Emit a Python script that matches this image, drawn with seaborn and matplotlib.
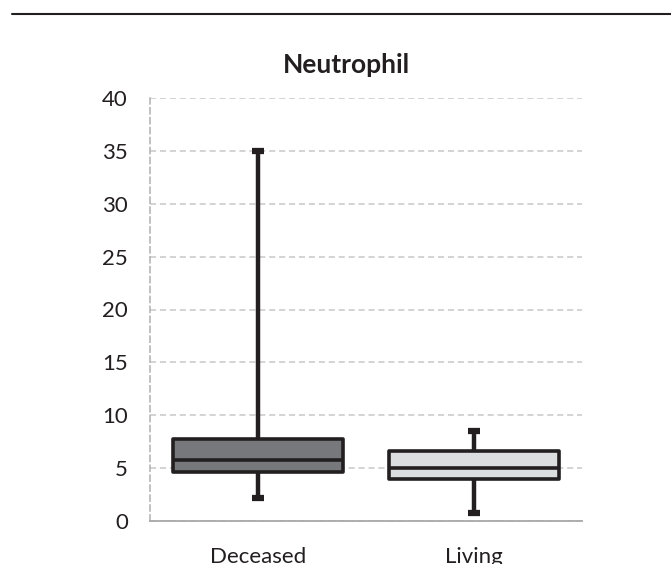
import matplotlib
matplotlib.use("Agg")
import matplotlib.pyplot as plt
import seaborn as sns
import pandas as pd
from matplotlib.lines import Line2D

categories = ["Deceased", "Living"]
# five-number summaries: min, Q1, median, Q3, max
deceased_stats = [2.2, 4.6, 5.8, 7.8, 35.0]
living_stats = [0.8, 3.95, 5.0, 6.6, 8.5]
box_colors = ["#77787b", "#dcddde"]
title = "Neutrophil"
yticks = [0, 5, 10, 15, 20, 25, 30, 35, 40]

df = pd.DataFrame({
    "group": [categories[0]] * len(deceased_stats) + [categories[1]] * len(living_stats),
    "value": deceased_stats + living_stats,
})

sns.set_style("white")
plt.rcParams["font.family"] = ["Lato", "DejaVu Sans"]

fig = plt.figure(figsize=(6.71, 5.64), dpi=100)
ax = fig.add_axes([150 / 671, 1 - 521 / 564, 432 / 671, 423 / 564])

edge = "#231f20"
sns.boxplot(data=df, x="group", y="value", hue="group", palette=box_colors,
            order=categories, hue_order=categories, legend=False,
            whis=(0, 100), width=0.79, linewidth=2.6, linecolor=edge,
            showfliers=False, ax=ax,
            boxprops=dict(edgecolor=edge, linewidth=2.6, joinstyle="round"),
            medianprops=dict(color=edge, linewidth=2.6),
            whiskerprops=dict(color=edge, linewidth=3.2),
            capprops=dict(color=edge, linewidth=4.5, solid_capstyle="butt"))

for c in ax.containers:
    caps = getattr(c, "caps", None)
    if caps is None:
        continue
    for cap in caps:
        xd = cap.get_xdata()
        mid = (xd[0] + xd[1]) / 2
        cap.set_xdata([mid - 0.027, mid + 0.027])

ax.set_xlim(-0.5, 1.5)
ax.set_ylim(0, 40)
ax.set_yticks(yticks)
ax.set_yticklabels([str(t) for t in yticks])
ax.set_xlabel("")
ax.set_ylabel("")
ax.tick_params(axis="y", length=0, pad=16, labelsize=16, labelcolor="#231f20")
ax.tick_params(axis="x", length=0, pad=19, labelsize=16, labelcolor="#231f20")

ax.yaxis.grid(True, linestyle=(0, (4, 2.5)), color="#c8c8c8", linewidth=1.1)
ax.set_axisbelow(True)
for s in ["top", "right"]:
    ax.spines[s].set_visible(False)
ax.spines["left"].set_linestyle((0, (4, 2.5)))
ax.spines["left"].set_color("#b0b0b0")
ax.spines["left"].set_linewidth(1.1)
ax.spines["bottom"].set_color("#a8a8a8")
ax.spines["bottom"].set_linewidth(1.3)

fig.text(346.5 / 671, 1 - 73 / 564, title, fontsize=19, fontweight="bold",
         ha="center", va="baseline", color="#231f20")

fig.add_artist(Line2D([12 / 671, 1.0], [1 - 14 / 564, 1 - 14 / 564],
                      color="#231f20", linewidth=1.5, transform=fig.transFigure))

fig.savefig("out.png", dpi=100)
